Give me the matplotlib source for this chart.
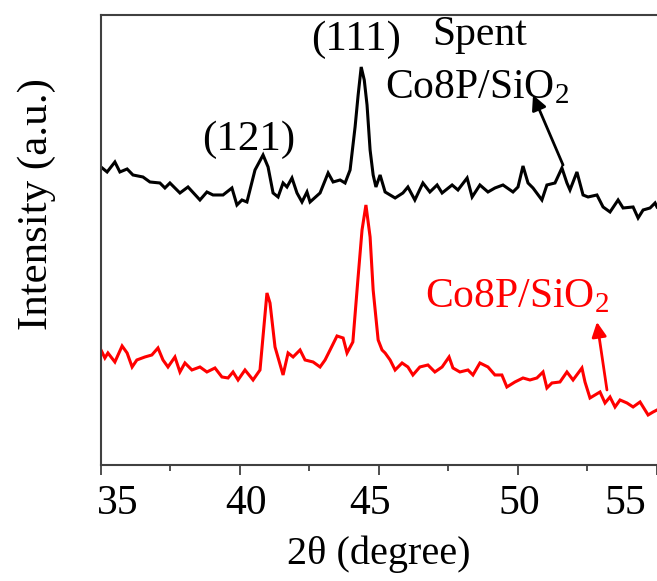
import matplotlib
matplotlib.use("Agg")
import matplotlib.pyplot as plt
import matplotlib.transforms as mtransforms
from matplotlib.ticker import MultipleLocator
import numpy as np

plt.rcParams['font.family'] = ['Liberation Serif', 'DejaVu Serif']
plt.rcParams['mathtext.fontset'] = 'custom'
plt.rcParams['mathtext.rm'] = 'Liberation Serif'
plt.rcParams['mathtext.it'] = 'Liberation Serif:italic'

# ---- data (2theta in degree, intensity in a.u.) ----
spent_2theta = [35.0, 35.22, 35.50, 35.68, 35.94, 36.15, 36.51, 36.76, 37.12, 37.30, 37.48, 37.84,
                38.13, 38.56, 38.81, 39.03, 39.39, 39.71, 39.89, 40.07, 40.25, 40.54, 40.83, 41.01,
                41.19, 41.37, 41.55, 41.69, 41.87, 42.05, 42.23, 42.41, 42.52, 42.88, 43.17, 43.35,
                43.60, 43.78, 43.96, 44.14, 44.25, 44.36, 44.47, 44.57, 44.68, 44.79, 44.89, 45.04,
                45.22, 45.58, 45.86, 46.04, 46.29, 46.58, 46.83, 47.09, 47.27, 47.63, 47.84, 48.17,
                48.35, 48.63, 48.92, 49.17, 49.46, 49.82, 50.00, 50.18, 50.36, 50.54, 50.86, 51.04,
                51.33, 51.58, 51.76, 51.87, 52.12, 52.34, 52.52, 52.84, 53.06, 53.31, 53.60, 53.78,
                54.14, 54.32, 54.50, 54.75, 54.93, 55.0]
spent_int = [298, 293, 303, 293, 296, 290, 288, 283, 282, 277, 282, 272,
             278, 265, 273, 270, 270, 277, 260, 265, 263, 295, 310, 298,
             272, 268, 282, 278, 287, 272, 263, 273, 263, 272, 292, 283,
             285, 282, 295, 338, 370, 398, 385, 360, 315, 290, 278, 290,
             273, 267, 272, 278, 265, 282, 273, 280, 272, 280, 275, 287,
             268, 280, 273, 277, 280, 273, 278, 299, 282, 277, 265, 280,
             282, 297, 282, 275, 293, 270, 268, 270, 258, 253, 265, 257,
             258, 247, 255, 257, 262, 258]

fresh_2theta = [35.0, 35.14, 35.25, 35.50, 35.76, 35.94, 36.12, 36.29, 36.58, 36.83, 37.05, 37.23,
                37.41, 37.66, 37.84, 38.02, 38.27, 38.56, 38.81, 39.10, 39.35, 39.57, 39.75, 39.93,
                40.18, 40.47, 40.72, 40.97, 41.08, 41.26, 41.55, 41.73, 41.91, 42.16, 42.34, 42.63,
                42.88, 43.06, 43.24, 43.49, 43.71, 43.85, 44.06, 44.24, 44.39, 44.53, 44.68, 44.79,
                44.97, 45.11, 45.22, 45.40, 45.58, 45.83, 46.04, 46.22, 46.47, 46.76, 47.01, 47.27,
                47.52, 47.66, 47.91, 48.20, 48.38, 48.63, 48.92, 49.17, 49.42, 49.60, 49.89, 50.18,
                50.43, 50.68, 50.90, 51.04, 51.22, 51.51, 51.76, 51.98, 52.30, 52.41, 52.59, 52.95,
                53.13, 53.31, 53.49, 53.67, 53.92, 54.14, 54.39, 54.68, 54.86, 55.0]
fresh_int = [115, 107, 112, 103, 119, 112, 98, 105, 108, 110, 117, 105,
             98, 108, 93, 102, 95, 98, 93, 97, 88, 87, 93, 85,
             95, 85, 95, 172, 162, 118, 90, 112, 108, 115, 105, 103,
             98, 105, 115, 129, 127, 112, 123, 185, 235, 260, 228, 175,
             125, 115, 112, 105, 95, 102, 98, 90, 98, 100, 93, 98,
             108, 97, 93, 95, 90, 102, 98, 90, 90, 78, 83, 87,
             85, 87, 93, 77, 82, 83, 93, 85, 97, 83, 67, 73,
             62, 68, 58, 65, 62, 58, 63, 50, 53, 55]

xticks = [35, 40, 45, 50, 55]
xtick_labels = ['35', '40', '45', '50', '55']

fig = plt.figure(figsize=(6.57, 5.81), dpi=100)
ax = fig.add_axes([0.1537, 0.1997, 0.8463, 0.7745])

ax.plot(spent_2theta, spent_int, color='black', lw=2.2, solid_joinstyle='miter')
ax.plot(fresh_2theta, fresh_int, color='red', lw=2.2, solid_joinstyle='miter')

ax.set_xlim(35, 55)
ax.set_ylim(0, 450)
ax.set_yticks([])
ax.set_xticks(xticks)
ax.set_xticklabels(xtick_labels)
ax.xaxis.set_minor_locator(MultipleLocator(2.5))
ax.tick_params(axis='x', which='major', direction='out', length=7, width=1.3,
               labelsize=30, pad=7, color='#404040')
ax.tick_params(axis='x', which='minor', direction='out', length=4, width=1.3, color='#404040')

# horizontal shifts of the tick labels (in pixels) as in the reference
label_shift_px = {'35': 17, '40': 6, '45': -9, '50': 1, '55': -32}
for lab in ax.get_xticklabels():
    dx = label_shift_px.get(lab.get_text(), 0)
    lab.set_transform(lab.get_transform() +
                      mtransforms.ScaledTranslation(dx / 100.0, 0, fig.dpi_scale_trans))

for side in ['left', 'top', 'bottom']:
    ax.spines[side].set_color('#404040')
    ax.spines[side].set_linewidth(1.5)
ax.spines['right'].set_visible(False)

ax.set_xlabel('2θ (degree)', fontsize=29, labelpad=9)
ax.set_ylabel('Intensity (a.u.)', fontsize=31)
ax.yaxis.set_label_coords(-0.08, 0.58)

ax.text(40.32, 315, '(121)', fontsize=31, ha='center', va='baseline')
ax.text(44.17, 415, '(111)', fontsize=31, ha='center', va='baseline')
ax.text(46.91, 420, 'Spent', fontsize=30, ha='left', va='baseline')
ax.text(45.22, 367, r'Co8P/SiO$_2$', fontsize=30, ha='left', va='baseline')
ax.text(46.65, 158, r'Co8P/SiO$_2$', fontsize=30, ha='left', va='baseline', color='red')

ax.annotate('', xy=(50.54, 370), xytext=(51.62, 300),
            arrowprops=dict(arrowstyle='-|>', color='black', lw=2, mutation_scale=22,
                            shrinkA=0, shrinkB=0))
ax.annotate('', xy=(52.84, 143), xytext=(53.20, 75),
            arrowprops=dict(arrowstyle='-|>', color='red', lw=2, mutation_scale=22,
                            shrinkA=0, shrinkB=0))

fig.savefig('out.png', dpi=100)
